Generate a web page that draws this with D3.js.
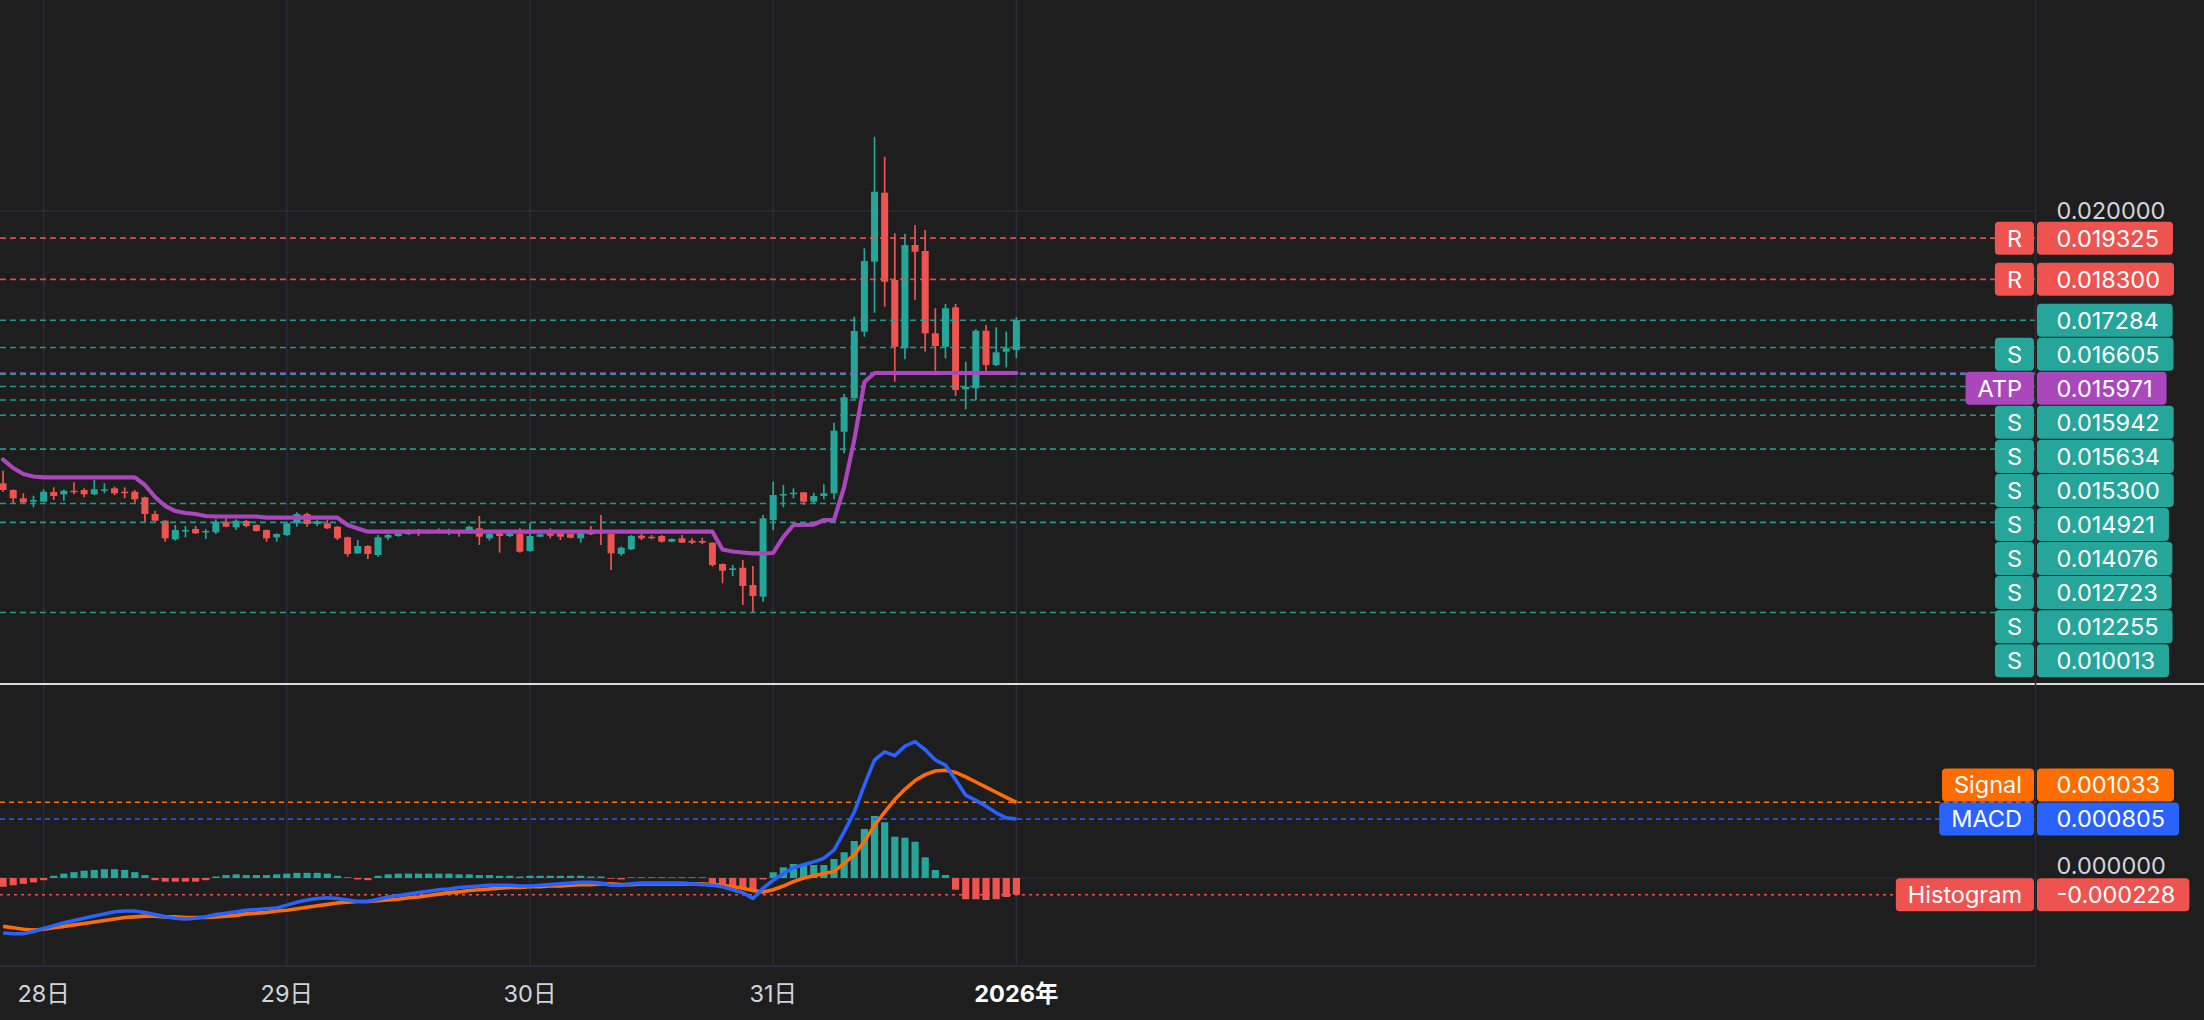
<!DOCTYPE html>
<html><head><meta charset="utf-8">
<script src="https://cdn.jsdelivr.net/npm/d3@7"></script>
<style>
html,body{margin:0;padding:0;background:#1e1e1e;overflow:hidden}
svg{display:block}
text{font-family:Inter,"Noto Sans CJK JP","Noto Sans",sans-serif}
</style></head><body><svg id="c" width="2204" height="1020"></svg>
<script>
// ---------------- DATA ----------------
const startTime = "2025-12-27T20:00:00Z"; // first hourly candle
const open = [
0.013227,0.013060,0.012853,0.012786,0.012769,0.013010,0.012953,0.013042,0.013060,0.012953,
0.013042,0.013102,0.013017,0.013017,0.012878,0.012463,0.012296,0.011833,0.012040,0.012090,
0.012008,0.012008,0.012271,0.012132,0.012289,0.012189,0.012065,0.011883,0.011940,0.012231,
0.012463,0.012214,0.012231,0.012147,0.011883,0.011485,0.011667,0.011443,0.011873,0.011915,
0.011965,0.012047,0.012023,0.012065,0.011998,0.012047,0.012047,0.012107,0.011858,0.011983,
0.011915,0.011965,0.011542,0.011898,0.011983,0.011983,0.011965,0.011858,0.012023,0.012023,
0.011965,0.011468,0.011585,0.011923,0.011898,0.011915,0.011774,0.011858,0.011799,0.011791,
0.011749,0.011219,0.011070,0.011127,0.010697,0.010406,0.012313,0.012943,0.012985,0.013002,
0.012769,0.012910,0.012978,0.014510,0.015341,0.016998,0.018739,0.020455,0.018284,0.016585,
0.019154,0.019005,0.016958,0.016624,0.017604,0.015565,0.015590,0.017022,0.016169,0.016500,
0.016542];
const high = [
0.013540,0.013077,0.012978,0.012918,0.013077,0.013127,0.013072,0.013251,0.013102,0.013308,
0.013227,0.013142,0.013127,0.013060,0.012893,0.012537,0.012313,0.012189,0.012164,0.012164,
0.012090,0.012331,0.012356,0.012331,0.012313,0.012202,0.012077,0.011983,0.012271,0.012505,
0.012495,0.012313,0.012313,0.012164,0.011898,0.011816,0.011692,0.011940,0.011965,0.011998,
0.012082,0.012090,0.012065,0.012107,0.012097,0.012065,0.012172,0.012413,0.011998,0.012023,
0.012015,0.012107,0.012231,0.011965,0.012107,0.012023,0.011978,0.012065,0.012164,0.012438,
0.011983,0.011649,0.011940,0.011983,0.011940,0.011940,0.011858,0.011940,0.011858,0.011873,
0.011754,0.011236,0.011194,0.011318,0.011169,0.012438,0.013266,0.013184,0.013102,0.013010,
0.012993,0.013202,0.014734,0.015448,0.017371,0.019072,0.021848,0.021351,0.019445,0.019428,
0.019652,0.019527,0.017580,0.017687,0.017687,0.016251,0.017057,0.017164,0.017107,0.016998,
0.017356];
const low = [
0.013017,0.012729,0.012729,0.012630,0.012754,0.012811,0.012794,0.012953,0.012878,0.012935,
0.012978,0.012935,0.012853,0.012744,0.012271,0.012271,0.011774,0.011799,0.011883,0.011965,
0.011841,0.011965,0.012132,0.012065,0.012132,0.012023,0.011774,0.011774,0.011915,0.012147,
0.012147,0.012164,0.012090,0.011816,0.011401,0.011473,0.011343,0.011401,0.011816,0.011898,
0.011940,0.011915,0.011965,0.011998,0.011940,0.011898,0.012023,0.011692,0.011799,0.011500,
0.011891,0.011500,0.011525,0.011891,0.011858,0.011816,0.011858,0.011749,0.011940,0.011692,
0.011070,0.011425,0.011567,0.011816,0.011833,0.011749,0.011759,0.011749,0.011716,0.011716,
0.011152,0.010739,0.010920,0.010199,0.010007,0.010281,0.012065,0.012630,0.012853,0.012687,
0.012729,0.012828,0.012828,0.013973,0.015316,0.016873,0.017470,0.017619,0.015754,0.016311,
0.017786,0.016500,0.016027,0.016336,0.015398,0.015067,0.015299,0.016027,0.016144,0.016112,
0.016336];
const close = [
0.013060,0.012853,0.012754,0.012811,0.013017,0.012910,0.013042,0.013010,0.012953,0.013077,
0.013077,0.012978,0.012993,0.012828,0.012463,0.012296,0.011858,0.012065,0.012065,0.011983,
0.012040,0.012271,0.012147,0.012296,0.012164,0.012040,0.011858,0.011965,0.012231,0.012463,
0.012214,0.012281,0.012107,0.011858,0.011468,0.011667,0.011468,0.011883,0.011940,0.011983,
0.012023,0.011998,0.011998,0.012015,0.012065,0.012015,0.012147,0.011898,0.011965,0.011915,
0.011983,0.011525,0.011915,0.011958,0.011923,0.011898,0.011873,0.011983,0.011958,0.011983,
0.011485,0.011624,0.011915,0.011858,0.011866,0.011774,0.011841,0.011749,0.011749,0.011749,
0.011194,0.011052,0.011112,0.010672,0.010423,0.012356,0.012935,0.012960,0.012993,0.012769,
0.012910,0.012978,0.014535,0.015366,0.017015,0.018756,0.020480,0.018241,0.016624,0.019154,
0.018988,0.016958,0.016642,0.017580,0.015547,0.015629,0.017022,0.016169,0.016485,0.016585,
0.017284];
const atp = [
0.013818,0.013607,0.013458,0.013396,0.013376,0.013376,0.013376,0.013376,0.013376,0.013376,
0.013376,0.013376,0.013376,0.013376,0.013184,0.012886,0.012662,0.012537,0.012488,0.012463,
0.012413,0.012401,0.012401,0.012401,0.012401,0.012401,0.012371,0.012371,0.012371,0.012371,
0.012371,0.012371,0.012371,0.012371,0.012189,0.012102,0.012023,0.012023,0.012023,0.012023,
0.012023,0.012023,0.012023,0.012023,0.012023,0.012023,0.012023,0.012023,0.012023,0.012023,
0.012023,0.012023,0.012023,0.012023,0.012023,0.012023,0.012023,0.012023,0.012023,0.012023,
0.012023,0.012023,0.012023,0.012023,0.012023,0.012023,0.012023,0.012023,0.012023,0.012023,
0.012023,0.011580,0.011530,0.011505,0.011485,0.011485,0.011493,0.011891,0.012189,0.012189,
0.012201,0.012313,0.012313,0.013134,0.014303,0.015746,0.015971,0.015971,0.015971,0.015971,
0.015971,0.015971,0.015971,0.015971,0.015971,0.015971,0.015971,0.015971,0.015971,0.015971,
0.015971];
const macd = [
-0.00075,-0.00076,-0.00076,-0.00073,-0.00069,-0.00065,-0.00061,-0.00058,-0.00055,-0.00052,
-0.00049,-0.00046,-0.00045,-0.00045,-0.00047,-0.00050,-0.00053,-0.00055,-0.00056,-0.00055,
-0.00053,-0.00050,-0.00048,-0.00046,-0.00044,-0.00043,-0.00042,-0.00041,-0.00037,-0.00033,
-0.00030,-0.00028,-0.00027,-0.00028,-0.00030,-0.00032,-0.00032,-0.00029,-0.00026,-0.00024,
-0.00022,-0.00020,-0.00018,-0.00016,-0.00015,-0.00013,-0.00012,-0.00011,-0.00010,-0.00010,
-0.00010,-0.00011,-0.00011,-0.00010,-0.00009,-0.00008,-0.00007,-0.00006,-0.00006,-0.00007,
-0.00010,-0.00010,-0.00008,-0.00007,-0.00007,-0.00007,-0.00007,-0.00007,-0.00008,-0.00009,
-0.00010,-0.00012,-0.00016,-0.00020,-0.00028,-0.00014,-0.00003,0.00006,0.00014,0.00018,
0.00022,0.00027,0.00038,0.00063,0.00090,0.00127,0.00161,0.00172,0.00167,0.00180,
0.00186,0.00175,0.00161,0.00154,0.00134,0.00113,0.00106,0.00098,0.00089,0.00082,
0.000805];
const signal = [
-0.00066,-0.00068,-0.00070,-0.00071,-0.00070,-0.00068,-0.00066,-0.00064,-0.00062,-0.00060,
-0.00058,-0.00056,-0.00054,-0.00053,-0.00052,-0.00052,-0.00053,-0.00053,-0.00054,-0.00054,
-0.00054,-0.00053,-0.00052,-0.00051,-0.00049,-0.00048,-0.00047,-0.00045,-0.00044,-0.00042,
-0.00040,-0.00038,-0.00036,-0.00034,-0.00033,-0.00032,-0.00032,-0.00031,-0.00030,-0.00029,
-0.00027,-0.00026,-0.00024,-0.00022,-0.00020,-0.00019,-0.00017,-0.00016,-0.00015,-0.00014,
-0.00013,-0.00013,-0.00012,-0.00012,-0.00011,-0.00011,-0.00010,-0.00009,-0.00009,-0.00008,
-0.00008,-0.00009,-0.00009,-0.00008,-0.00008,-0.00008,-0.00008,-0.00008,-0.00008,-0.00008,
-0.00009,-0.00010,-0.00012,-0.00014,-0.00017,-0.00019,-0.00016,-0.00011,-0.00005,0.00000,
0.00003,0.00006,0.00009,0.00020,0.00032,0.00050,0.00072,0.00090,0.00107,0.00121,
0.00133,0.00141,0.00146,0.00147,0.00144,0.00138,0.00131,0.00124,0.00117,0.00110,
0.001033];
const hist = [
-0.00012,-0.00010,-0.00008,-0.00006,-0.00003,0.00003,0.00006,0.00008,0.00010,0.00011,
0.00012,0.00012,0.00011,0.00008,0.00004,-0.00003,-0.00005,-0.00005,-0.00005,-0.00005,
-0.00003,0.00002,0.00004,0.00005,0.00004,0.00004,0.00004,0.00005,0.00006,0.00007,
0.00007,0.00007,0.00006,0.00003,0.00001,-0.00002,-0.00003,0.00003,0.00005,0.00006,
0.00006,0.00006,0.00006,0.00006,0.00006,0.00005,0.00005,0.00004,0.00004,0.00003,
0.00003,0.00002,0.00003,0.00003,0.00003,0.00003,0.00003,0.00003,0.00002,0.00002,
-0.00001,-0.00002,0.00001,0.00001,0.00001,0.00001,0.00001,0.00001,0.00001,0.00001,
-0.00011,-0.00012,-0.00013,-0.00014,-0.00017,-0.00002,0.000078,0.000146,0.000191,0.000191,
0.000177,0.000177,0.000259,0.000351,0.000505,0.000669,0.000846,0.000760,0.000564,0.000550,
0.000495,0.000282,0.000109,0.000041,-0.000160,-0.000290,-0.000290,-0.000300,-0.000290,-0.000260,
-0.000228];

const priceTicks = [0.02];
const macdTicks = [0];
const dayTicks = ["2025-12-28T00:00:00Z","2025-12-29T00:00:00Z","2025-12-30T00:00:00Z","2025-12-31T00:00:00Z","2026-01-01T00:00:00Z"];
const dayLabels = ["28日","29日","30日","31日","2026年"];

const levelValues = [0.019325,0.018300,0.017284,0.016605,0.015971,0.015942,0.015634,0.015300,0.014921,0.014076,0.012723,0.012255,0.010013];
const levelTags   = ["R","R","","S","ATP","S","S","S","S","S","S","S","S"];
const macdLevelNames  = ["Signal","MACD","Histogram"];
const macdLevelValues = [0.001033,0.000805,-0.000228];

// ---------------- STYLE / LAYOUT ----------------
const W = 2204, H = 1020, PR = 2036;
const mainTop = 0, mainBot = 683, macdBot = 966;
const UP = "#26a69a", DOWN = "#ef5350", PURPLE = "#ab47bc", BLUE = "#2962ff", ORANGE = "#ff6d00";
const GRID = "#2b2b3d", TXT = "#d1d4dc", BG = "#1e1e1e";
const tagColor = {R: DOWN, S: UP, "": UP, ATP: PURPLE};
const macdColor = {Signal: ORANGE, MACD: BLUE, Histogram: DOWN};
const FS = 23.5, LBL_H = 33, LBL_STEP = 34.05;

const svg = d3.select("#c");
svg.append("rect").attr("width", W).attr("height", H).attr("fill", BG);

const t0 = new Date(startTime);
const times = open.map((d, i) => new Date(t0.getTime() + i * 3600e3));
const x = d3.scaleUtc()
  .domain([new Date(dayTicks[0]), new Date(dayTicks[4])])
  .range([43.6, 1016.4]);
const y = d3.scaleLinear().domain([0.008259, 0.025249]).range([mainBot, mainTop]);
const ym = d3.scaleLinear().domain([-0.001201, 0.002661]).range([macdBot, 683]);

// grid
const g = svg.append("g");
g.selectAll("line.v").data(dayTicks).join("line")
  .attr("x1", d => x(new Date(d))).attr("x2", d => x(new Date(d)))
  .attr("y1", 0).attr("y2", macdBot).attr("stroke", GRID).attr("stroke-width", 1.5);
g.selectAll("line.hp").data(priceTicks).join("line")
  .attr("x1", 0).attr("x2", PR).attr("y1", d => y(d)).attr("y2", d => y(d))
  .attr("stroke", GRID).attr("stroke-width", 1.5);
g.selectAll("line.hm").data(macdTicks).join("line")
  .attr("x1", 0).attr("x2", PR).attr("y1", d => ym(d)).attr("y2", d => ym(d))
  .attr("stroke", GRID).attr("stroke-width", 1.5);
g.append("line").attr("x1", 0).attr("x2", PR).attr("y1", macdBot).attr("y2", macdBot)
  .attr("stroke", GRID).attr("stroke-width", 2);

// candles
const cg = svg.append("g");
const bw = 7;
const candles = open.map((o, i) => ({t: times[i], o, h: high[i], l: low[i], c: close[i]}));
cg.selectAll("line").data(candles).join("line")
  .attr("x1", d => x(d.t)).attr("x2", d => x(d.t))
  .attr("y1", d => y(d.h)).attr("y2", d => y(d.l))
  .attr("stroke", d => d.c >= d.o ? UP : DOWN).attr("stroke-width", 1.7);
cg.selectAll("rect").data(candles).join("rect")
  .attr("x", d => x(d.t) - bw / 2).attr("width", bw)
  .attr("y", d => y(Math.max(d.o, d.c)))
  .attr("height", d => Math.max(1.5, Math.abs(y(d.o) - y(d.c))))
  .attr("fill", d => d.c >= d.o ? UP : DOWN);

// price level dashed lines
const lg = svg.append("g");
levelValues.forEach((v, i) => {
  lg.append("line").attr("x1", 0).attr("x2", PR).attr("y1", y(v)).attr("y2", y(v))
    .attr("stroke", tagColor[levelTags[i]]).attr("stroke-width", 1.6)
    .attr("stroke-dasharray", "6,4").attr("opacity", 0.9);
});

// ATP line
svg.append("path").datum(atp)
  .attr("d", d3.line().x((d, i) => x(times[i])).y(d => y(d)))
  .attr("fill", "none").attr("stroke", PURPLE).attr("stroke-width", 4.2)
  .attr("stroke-linejoin", "round").attr("stroke-linecap", "round");

// MACD histogram
const mg = svg.append("g");
mg.selectAll("rect").data(hist).join("rect")
  .attr("x", (d, i) => x(times[i]) - 3.6).attr("width", 7.2)
  .attr("y", d => Math.min(ym(0), ym(d)))
  .attr("height", d => Math.abs(ym(d) - ym(0)))
  .attr("fill", d => d >= 0 ? UP : DOWN);
// MACD level lines
macdLevelNames.forEach((n, i) => {
  mg.append("line").attr("x1", 0).attr("x2", PR)
    .attr("y1", ym(macdLevelValues[i])).attr("y2", ym(macdLevelValues[i]))
    .attr("stroke", macdColor[n]).attr("stroke-width", 1.6)
    .attr("stroke-dasharray", n === "Histogram" ? "3,4" : "5,4");
});
const ln = d3.line().x((d, i) => x(times[i])).y(d => ym(d));
mg.append("path").datum(signal).attr("d", ln).attr("fill", "none")
  .attr("stroke", ORANGE).attr("stroke-width", 3.6).attr("stroke-linejoin", "round");
mg.append("path").datum(macd).attr("d", ln).attr("fill", "none")
  .attr("stroke", BLUE).attr("stroke-width", 3.6).attr("stroke-linejoin", "round");

// pane separator & axis line
svg.append("rect").attr("x", 0).attr("y", mainBot).attr("width", W).attr("height", 2).attr("fill", "#dedede");
svg.append("line").attr("x1", PR - 0.5).attr("x2", PR - 0.5).attr("y1", 0).attr("y2", macdBot)
  .attr("stroke", GRID).attr("stroke-width", 1.5);

// axis tick texts
const ax = svg.append("g").attr("font-size", FS).attr("fill", TXT);
priceTicks.forEach(v => ax.append("text").attr("x", 2056.5).attr("y", y(v)).attr("dy", "0.36em").text(v.toFixed(6)));
macdTicks.forEach(v => ax.append("text").attr("x", 2056.5).attr("y", ym(v) - 4).text(v.toFixed(6)));

// labels
function drawLabel(parent, yc, tag, val, color) {
  const gg = parent.append("g");
  const vr = gg.append("rect").attr("fill", color).attr("rx", 4);
  const vt = gg.append("text").attr("x", 2056.5).attr("y", yc).attr("dy", "0.36em")
    .attr("font-size", FS).attr("fill", "#ffffff").text(val);
  const tw = vt.node().getComputedTextLength();
  vr.attr("x", 2037).attr("y", yc - LBL_H / 2).attr("width", 2056.5 + tw + 14 - 2037).attr("height", LBL_H);
  if (tag) {
    const tr = gg.append("rect").attr("fill", color).attr("rx", 4);
    const tt = gg.append("text").attr("y", yc).attr("dy", "0.36em").attr("font-size", FS)
      .attr("fill", "#ffffff").attr("text-anchor", "middle").text(tag);
    const w2 = tt.node().getComputedTextLength() + 24;
    tr.attr("x", 2034 - w2).attr("y", yc - LBL_H / 2).attr("width", w2).attr("height", LBL_H);
    tt.attr("x", 2034 - w2 / 2);
  }
}
// price pane: resolve overlaps downward
const pl = levelValues.map((v, i) => ({v, tag: levelTags[i], yy: y(v)})).sort((a, b) => a.yy - b.yy);
for (let i = 1; i < pl.length; i++) pl[i].yy = Math.max(pl[i].yy, pl[i - 1].yy + LBL_STEP);
const lab = svg.append("g");
pl.forEach(d => drawLabel(lab, d.yy, d.tag, d.v.toFixed(6), tagColor[d.tag]));
// macd pane: resolve overlaps upward
const ml = macdLevelNames.map((n, i) => ({n, v: macdLevelValues[i], yy: ym(macdLevelValues[i])})).sort((a, b) => b.yy - a.yy);
for (let i = 1; i < ml.length; i++) ml[i].yy = Math.min(ml[i].yy, ml[i - 1].yy - LBL_STEP);
ml.forEach(d => drawLabel(lab, d.yy, d.n, d.v.toFixed(6), macdColor[d.n]));

// x-axis labels
svg.append("g").selectAll("text").data(dayTicks).join("text")
  .attr("x", d => x(new Date(d))).attr("y", 994).attr("dy", "0.36em")
  .attr("text-anchor", "middle").attr("font-size", FS)
  .attr("font-weight", (d, i) => i === dayTicks.length - 1 ? 700 : 400)
  .attr("fill", (d, i) => i === dayTicks.length - 1 ? "#ffffff" : TXT)
  .text((d, i) => dayLabels[i]);
</script></body></html>
